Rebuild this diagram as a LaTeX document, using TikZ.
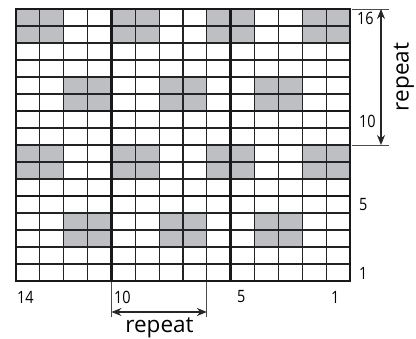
\documentclass[tikz,border=0pt]{standalone}
\usepackage{fontspec}
\setmainfont{Open Sans}
\usetikzlibrary{arrows.meta}
\definecolor{cellgray}{RGB}{190,191,194}
\definecolor{gridline}{RGB}{35,35,35}
\begin{document}
\begin{tikzpicture}[x=1pt,y=-1pt,
  thinline/.style={draw=gridline,line width=1.2pt},
  thickline/.style={draw=black!90,line width=2.6pt,line cap=rect},
  tickline/.style={draw=black!70,line width=0.9pt},
  reparrow/.style={draw=black!85,line width=1.1pt,{Stealth[length=10pt,width=8pt]}-{Stealth[length=10pt,width=8pt]}},
  numlabel/.style={font=\fontsize{17}{17}\selectfont,inner sep=0pt,anchor=west},
  replabel/.style={font=\fontsize{22.5}{22.5}\selectfont,inner sep=0pt,anchor=base}]
\useasboundingbox (0,0) rectangle (416,339);
\def\cw{23.857}
\def\ch{17}
% shaded cells
\foreach \j in {0,1,8,9}{\foreach \i in {0,1,4,5,8,9,12,13}{
  \fill[cellgray] (16+\i*\cw,9+\j*\ch) rectangle ++(\cw,\ch);}}
\foreach \j in {4,5,12,13}{\foreach \i in {2,3,6,7,10,11}{
  \fill[cellgray] (16+\i*\cw,9+\j*\ch) rectangle ++(\cw,\ch);}}
% thin grid lines
\foreach \i in {1,...,13}{\draw[thinline] (16+\i*\cw,9) -- (16+\i*\cw,281);}
\foreach \j in {1,...,15}{\draw[thinline] (16,9+\j*\ch) -- (350,9+\j*\ch);}
% thick lines
\foreach \i in {0,4,9,14}{\draw[thickline] (16+\i*\cw,9) -- (16+\i*\cw,281);}
\foreach \j in {0,6,11,16}{\draw[thickline] (16,9+\j*\ch) -- (350,9+\j*\ch);}
% right repeat marker
\coordinate (rt) at (381,9);
\coordinate (rb) at (381,145);
\draw[tickline] (351.5,9) -- (389,9);
\draw[tickline] (351.5,145) -- (389,145);
\draw[reparrow] (rt) -- (rb);
\node[replabel,rotate=90] (rrep) at (408.5,77) {repeat};
% bottom repeat marker
\coordinate (bl) at (111.43,312);
\coordinate (br) at (206.86,312);
\draw[tickline] (111.43,282.5) -- (111.43,317);
\draw[tickline] (206.86,282.5) -- (206.86,317);
\draw[reparrow] (bl) -- (br);
\node[replabel] (brep) at (159.5,333) {repeat};
% row numbers
\node[numlabel] (r16) at (357,18) {\scalebox{0.85}[1]{16}};
\node[numlabel] (r10) at (359,121) {\scalebox{0.85}[1]{10}};
\node[numlabel] (r5) at (359,205) {\scalebox{0.85}[1]{5}};
\node[numlabel] (r1) at (359,273) {\scalebox{0.85}[1]{1}};
% column numbers
\node[numlabel] (c14) at (17,297) {\scalebox{0.85}[1]{14}};
\node[numlabel] (c10) at (114,297) {\scalebox{0.85}[1]{10}};
\node[numlabel] (c5) at (237,297) {\scalebox{0.85}[1]{5}};
\node[numlabel] (c1) at (331,297) {\scalebox{0.85}[1]{1}};
\end{tikzpicture}
\end{document}
